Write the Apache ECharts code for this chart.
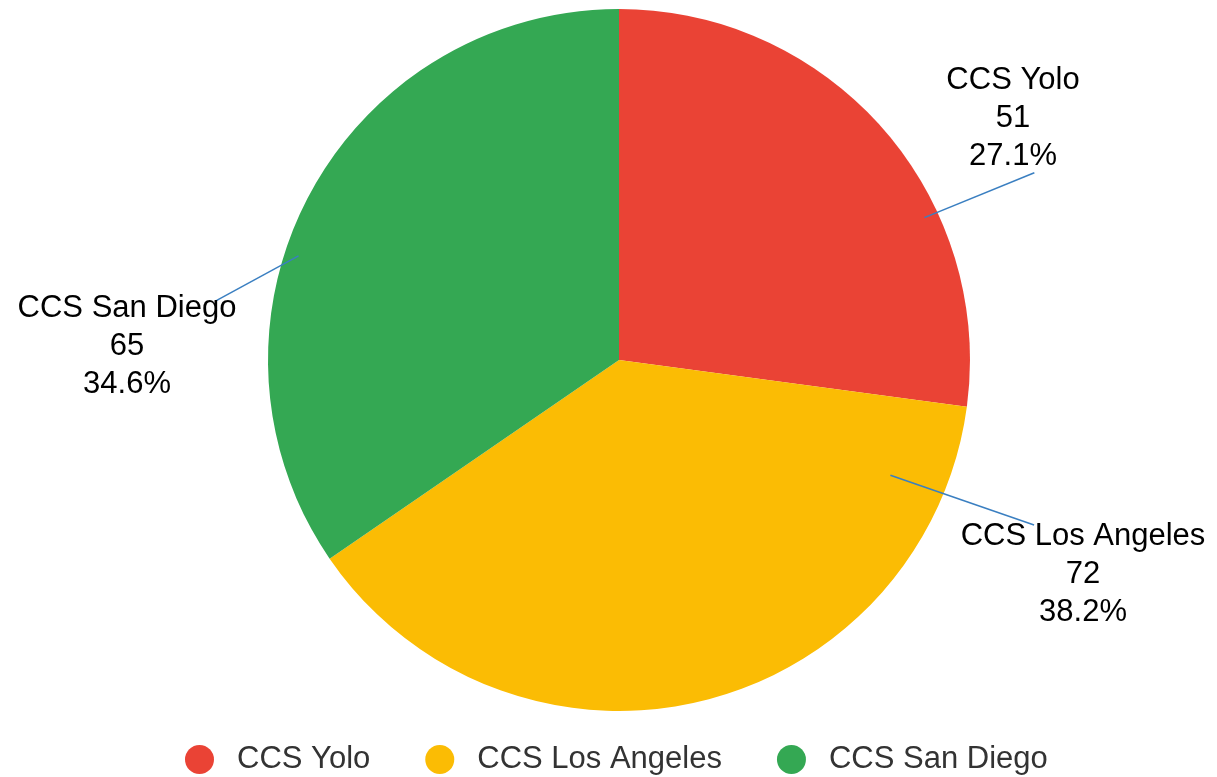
<!DOCTYPE html>
<html>
<head>
<meta charset="utf-8">
<script src="https://cdn.jsdelivr.net/npm/echarts@6/dist/echarts.min.js"></script>
<style>
    html, body { margin: 0; padding: 0; background: #fff; }
    #chart { width: 1217px; height: 777px; }
</style>
</head>
<body>
<div id="chart"></div>
<script>
    // data
    const categories = ['CCS Yolo', 'CCS Los Angeles', 'CCS San Diego'];
    const counts = [51, 72, 65];
    const percentLabels = ['27.1%', '38.2%', '34.6%'];

    const sliceColors = ['#ea4335', '#fbbc04', '#34a853'];
    const CX = 619, CY = 360, R = 351;

    // where each label sits, where its leader ends on the label box (fractions),
    // and where it starts inside the slice (degrees clockwise from top, radius fraction)
    const labelPlace = [
        {x: 1013, y: 118, ex: 0.66, ey: 0.98, angle: 65, rf: 0.96},
        {x: 1083, y: 574, ex: 0.30, ey: 0.07, angle: 113, rf: 0.84},
        {x: 127, y: 346, ex: 0.91, ey: 0.10, angle: 288, rf: 0.96}
    ];

    const pieData = categories.map((name, i) => ({name: name, value: counts[i]}));

    const chart = echarts.init(document.getElementById('chart'));

    const option = {
        animation: false,
        color: sliceColors,
        legend: {
            data: categories,
            left: 185,
            top: 744,
            padding: 0,
            icon: 'circle',
            itemWidth: 29,
            itemHeight: 29,
            itemGap: 55,
            selectedMode: false,
            textStyle: {
                fontFamily: 'Liberation Sans, Arial, sans-serif',
                fontSize: 31,
                color: '#333',
                padding: [0, 0, 0, 18]
            }
        },
        series: [
            {
                // coloured slices
                name: 'CCS',
                type: 'pie',
                z: 2,
                center: [CX, CY],
                radius: R,
                startAngle: 90,
                clockwise: true,
                emphasis: {disabled: true},
                itemStyle: {borderWidth: 0},
                label: {show: false},
                labelLine: {show: false},
                data: pieData
            },
            {
                // same slices, transparent, only to carry labels + leader lines above the pie
                name: 'labels',
                type: 'pie',
                z: 3,
                silent: true,
                center: [CX, CY],
                radius: R,
                startAngle: 90,
                clockwise: true,
                avoidLabelOverlap: false,
                emphasis: {disabled: true},
                itemStyle: {color: 'rgba(0,0,0,0)', borderWidth: 0},
                data: pieData,
                label: {
                    show: true,
                    position: 'outside',
                    fontFamily: 'Liberation Sans, Arial, sans-serif',
                    fontSize: 31,
                    lineHeight: 38,
                    color: '#000',
                    align: 'center',
                    formatter: p => p.name + '\n' + p.value + '\n' + percentLabels[p.dataIndex]
                },
                labelLine: {
                    show: true,
                    lineStyle: {color: '#3a7fc1', width: 1.5}
                },
                labelLayout: function (params) {
                    const pl = labelPlace[params.dataIndex];
                    const w = params.labelRect.width;
                    const h = params.labelRect.height;
                    const left = pl.x - w / 2;
                    const top = pl.y - h / 2;
                    const a = pl.angle * Math.PI / 180;
                    const start = [CX + pl.rf * R * Math.sin(a), CY - pl.rf * R * Math.cos(a)];
                    const end = [left + pl.ex * w, top + pl.ey * h];
                    return {
                        x: pl.x,
                        y: pl.y,
                        align: 'center',
                        verticalAlign: 'middle',
                        labelLinePoints: [start, end, end]
                    };
                }
            }
        ]
    };

    chart.setOption(option);
    window.addEventListener('resize', chart.resize);
</script>
</body>
</html>
